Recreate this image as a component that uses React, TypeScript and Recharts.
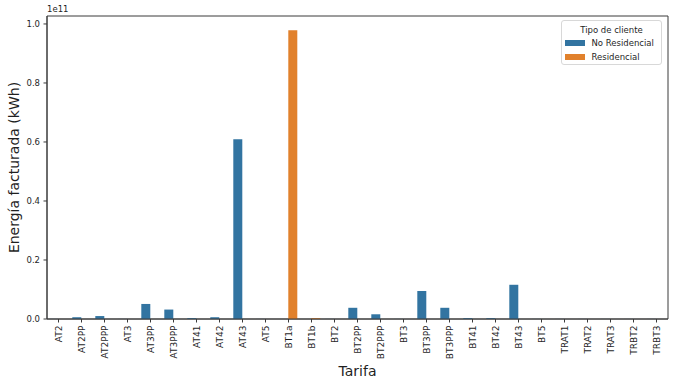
import React from "react";
import { BarChart, Bar, XAxis, YAxis, Legend, Label, ReferenceArea } from "recharts";

const categories = [
  "AT2", "AT2PP", "AT2PPP", "AT3", "AT3PP", "AT3PPP", "AT41", "AT42", "AT43", "AT5",
  "BT1a", "BT1b", "BT2", "BT2PP", "BT2PPP", "BT3", "BT3PP", "BT3PPP", "BT41", "BT42",
  "BT43", "BT5", "TRAT1", "TRAT2", "TRAT3", "TRBT2", "TRBT3",
];
// values in units of 1e11 kWh
const noResidencial = [
  0.0003, 0.006, 0.01, 0.0002, 0.051, 0.032, 0.003, 0.006, 0.609, 0.0002,
  0, 0, 0.0003, 0.038, 0.016, 0.0003, 0.095, 0.038, 0.003, 0.003,
  0.116, 0.0003, 0.0002, 0.0002, 0.0002, 0.0002, 0.0002,
];
const residencial = [
  0, 0, 0, 0, 0, 0, 0, 0, 0, 0,
  0.979, 0.003, 0, 0, 0, 0, 0, 0, 0, 0,
  0, 0, 0, 0, 0, 0, 0,
];
const yTicks = [0, 0.2, 0.4, 0.6, 0.8, 1.0];
const seriesNames = ["No Residencial", "Residencial"];
const SCALE = 1e11;
const Y_MAX = 1.027 * SCALE;

const data = categories.map((c, i) => ({
  name: c,
  nr: noResidencial[i] * SCALE,
  r: residencial[i] * SCALE,
}));

const FONT = "DejaVu Sans";
const TXT = "#1f1f1f";
const SPINE = "#3a3a3a";
const BLUE = "#3274a1";
const ORANGE = "#e1812c";

const XTick = (props: any) => {
  const { x, y, payload } = props;
  return (
    <text
      x={x}
      y={y}
      transform={`rotate(-90, ${x}, ${y})`}
      textAnchor="end"
      dominantBaseline="central"
      fontFamily={FONT}
      fontSize={9}
      fill={TXT}
    >
      {payload.value}
    </text>
  );
};

const LegendBox = (props: any) => {
  const payload = props.payload || [];
  return (
    <div
      style={{
        width: 101,
        height: 45,
        border: "1px solid #d8d8d8",
        borderRadius: 3,
        background: "rgba(255,255,255,0.8)",
        fontFamily: FONT,
        fontSize: 8.5,
        color: TXT,
        boxSizing: "border-box",
        position: "relative",
      }}
    >
      <div style={{ position: "absolute", top: 3.5, left: 0, width: "100%", textAlign: "center", lineHeight: "11px" }}>
        Tipo de cliente
      </div>
      {payload.map((p: any, i: number) => (
        <div key={i} style={{ position: "absolute", top: 16.5 + i * 14, left: 2.5, height: 11, display: "flex", alignItems: "center" }}>
          <span style={{ display: "inline-block", width: 20, height: 6, background: p.color, marginRight: 7 }} />
          <span style={{ lineHeight: "11px" }}>{p.value}</span>
        </div>
      ))}
    </div>
  );
};

export default function App() {
  return (
    <div style={{ position: "absolute", left: 0, top: 0, width: 686, height: 385, background: "#fff" }}>
      <BarChart
        width={686}
        height={385}
        data={data}
        margin={{ top: 16, right: 18, bottom: 0, left: 0 }}
        barCategoryGap="10%"
        barGap={0}
      >
        <XAxis
          dataKey="name"
          height={66}
          interval={0}
          tickSize={3.5}
          tickMargin={3}
          tick={<XTick />}
          stroke={SPINE}
          tickLine={{ stroke: SPINE }}
          axisLine={{ stroke: SPINE }}
        >
          <Label
            content={(p: any) => {
              const vb = p.viewBox;
              return (
                <text x={vb.x + vb.width / 2} y={371} textAnchor="middle" dominantBaseline="central" fontFamily={FONT} fontSize={14} fill={TXT}>
                  Tarifa
                </text>
              );
            }}
          />
        </XAxis>
        <YAxis
          width={47}
          domain={[0, Y_MAX]}
          ticks={yTicks.map((t) => t * SCALE)}
          tickFormatter={(v: number) => (v / SCALE).toFixed(1)}
          tickSize={3.5}
          tickMargin={3.5}
          tick={{ fontFamily: FONT, fontSize: 8.5, fill: TXT }}
          stroke={SPINE}
          allowDataOverflow
        >
          <Label
            content={(p: any) => {
              const vb = p.viewBox;
              const cy = vb.y + vb.height / 2;
              return (
                <g>
                  <text x={14} y={cy} transform={`rotate(-90, 14, ${cy})`} textAnchor="middle" dominantBaseline="central" fontFamily={FONT} fontSize={14} fill={TXT}>
                    Energía facturada (kWh)
                  </text>
                  <text x={vb.x + vb.width} y={9} textAnchor="start" dominantBaseline="central" fontFamily={FONT} fontSize={8.5} fill={TXT}>
                    1e11
                  </text>
                </g>
              );
            }}
          />
        </YAxis>
        <ReferenceArea y1={0} y2={Y_MAX} fill="none" fillOpacity={0} stroke={SPINE} strokeWidth={1} ifOverflow="visible" />
        <Legend
          layout="horizontal"
          verticalAlign="middle"
          align="center"
          content={<LegendBox />}
          wrapperStyle={{ top: 20, left: 561, width: 101, height: 45 }}
        />
        <Bar dataKey="nr" name={seriesNames[0]} fill={BLUE} isAnimationActive={false} />
        <Bar dataKey="r" name={seriesNames[1]} fill={ORANGE} isAnimationActive={false} />
      </BarChart>
    </div>
  );
}
